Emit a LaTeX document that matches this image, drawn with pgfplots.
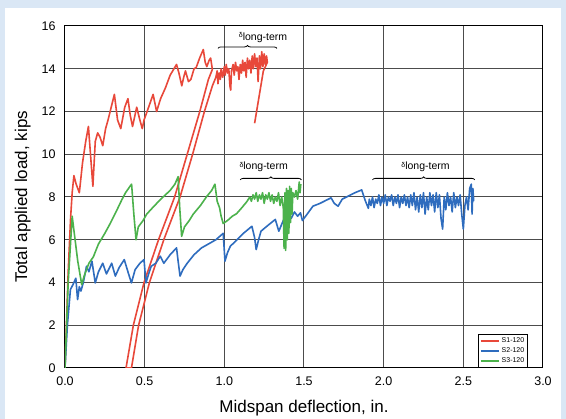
\documentclass[border=0pt]{standalone}
\usepackage{fontspec}
\setmainfont{Liberation Sans}
\usepackage{pgfplots}
\pgfplotsset{compat=1.18}
\usetikzlibrary{decorations.pathreplacing}
\definecolor{bgblue}{RGB}{218,231,245}
\definecolor{sred}{RGB}{232,72,58}
\definecolor{sblue}{RGB}{46,108,190}
\definecolor{sgreen}{RGB}{76,178,76}
\newcommand{\dlt}{{\fontsize{7}{7}\selectfont δ}\raisebox{-2.5pt}{\fontsize{10.5}{10.5}\selectfont long-term}}
\begin{document}
\begin{tikzpicture}
\fill[bgblue] (-65pt,-51pt) rectangle (501pt,368pt);
\fill[white] (-60pt,-51pt) rectangle (496pt,360pt);
\begin{axis}[
  at={(0pt,0pt)}, anchor=south west,
  scale only axis, width=478pt, height=342pt,
  xmin=0, xmax=3, ymin=0, ymax=16,
  xtick={0,0.5,...,3}, ytick={0,2,...,16},
  /pgf/number format/assume math mode=true,
  tick label style={font=\fontsize{12.5}{12.5}\selectfont},
  xticklabel style={yshift=-5pt, /pgf/number format/.cd, fixed, fixed zerofill, precision=1},
  yticklabel style={xshift=-6pt},
  major tick length=0pt,
  grid=major,
  grid style={black!70, line width=1pt},
  axis line style={black, line width=1pt},
  xlabel={Midspan deflection, in.},
  ylabel={Total applied load, kips},
  xlabel style={yshift=-8pt},
  ylabel style={yshift=4pt},
  label style={font=\fontsize{17}{17}\selectfont},
  legend style={at={(0.969,0)}, anchor=south east, draw=black, line width=0.8pt,
    font=\fontsize{7}{7}\selectfont, inner sep=1.5pt, row sep=-0.5pt},
  legend cell align=left,
  legend image code/.code={\draw[#1, line width=1.6pt] (0pt,0pt) -- (18pt,0pt);},
]
\addplot[sred, line width=1.6pt, line join=round] coordinates {
(0,0)(0.02,4.5)(0.035,7.0)(0.045,8.2)(0.056,9.0)(0.07,8.6)(0.09,8.2)(0.11,9.6)(0.13,10.6)
(0.147,11.3)(0.16,10.0)(0.175,8.5)(0.19,10.6)(0.205,11.0)(0.22,10.8)(0.237,10.4)(0.255,11.2)
(0.27,11.6)(0.29,12.2)(0.31,12.8)(0.33,11.6)(0.35,11.2)(0.375,12.2)(0.395,12.6)(0.41,11.8)
(0.424,11.3)(0.45,12.2)(0.47,11.6)(0.485,11.2)(0.496,11.6)(0.52,12.1)(0.553,12.8)(0.575,12.0)
(0.6,12.6)(0.63,13.1)(0.66,13.7)(0.70,14.2)(0.715,13.8)(0.733,13.2)(0.745,13.6)(0.756,13.9)
(0.775,13.4)(0.79,13.5)(0.81,14.0)(0.823,14.05)(0.845,14.5)(0.868,14.9)(0.88,14.3)(0.89,14.1)
(0.905,14.4)(0.914,14.5)(0.925,13.97)
(0.90,13.5)(0.846,12)(0.767,10)(0.688,8)(0.587,6)(0.496,4)(0.429,2)(0.383,0)
(0.417,0)(0.462,2)(0.53,4)(0.62,6)(0.722,8)(0.801,10)(0.875,12)(0.925,13.2)(0.947,13.6)
(0.955,13.9)(0.96,13.3)(0.968,13.8)(0.975,13.5)(0.98,14.0)(0.99,13.6)(1.0,14.1)(1.005,13.7)
(1.012,14.2)(1.02,13.8)(1.028,14.0)(1.035,13.2)(1.04,13.0)(1.045,13.9)(1.055,14.2)(1.062,13.7)
(1.07,14.3)(1.078,13.9)(1.085,14.1)(1.092,13.5)(1.1,14.2)(1.108,13.8)(1.115,14.4)(1.122,13.9)
(1.13,14.3)(1.137,13.6)(1.145,14.5)(1.152,14.0)(1.16,14.4)(1.167,13.8)(1.175,14.6)(1.182,14.0)
(1.19,14.7)(1.197,14.1)(1.205,14.5)(1.212,13.4)(1.22,14.6)(1.227,14.0)(1.235,14.8)(1.242,14.1)
(1.25,14.7)(1.257,14.2)(1.265,14.6)(1.27,14.3)(1.245,13.9)(1.19,11.45)
};
\addlegendentry{S1-120}
\addplot[sblue, line width=1.6pt, line join=round] coordinates {
(0,0)(0.015,2)(0.034,3.67)(0.05,3.9)(0.068,4.2)(0.079,3.2)(0.09,3.8)(0.1,3.6)(0.115,4.0)
(0.135,4.76)(0.15,4.5)(0.169,5.0)(0.19,3.98)(0.21,4.5)(0.237,4.9)(0.26,4.4)(0.28,4.7)(0.293,4.9)
(0.316,4.3)(0.34,4.7)(0.372,5.07)(0.395,4.5)(0.417,3.98)(0.44,4.6)(0.47,4.9)(0.496,5.07)
(0.508,3.98)(0.525,4.4)(0.541,4.76)(0.57,4.9)(0.598,5.23)(0.62,4.9)(0.66,5.3)(0.70,5.62)
(0.71,5.0)(0.722,4.3)(0.74,4.6)(0.767,4.9)(0.81,5.3)(0.857,5.62)(0.9,5.8)(0.947,6.0)(0.97,6.15)
(0.993,6.3)(1.004,5.0)(1.02,5.4)(1.038,5.7)(1.08,6.0)(1.12,6.3)(1.173,6.63)(1.19,6.1)(1.2,5.54)
(1.215,6.0)(1.23,6.4)(1.27,6.65)(1.32,6.95)(1.342,6.4)(1.37,6.9)(1.40,7.26)(1.42,7.0)(1.44,7.3)
(1.46,7.1)(1.478,7.26)(1.49,6.9)(1.52,7.2)(1.556,7.57)(1.6,7.7)(1.64,7.85)(1.67,7.96)(1.69,7.7)
(1.714,7.57)(1.74,7.9)(1.78,8.05)(1.82,8.2)(1.862,8.33)(1.883,7.86)(1.904,7.47)(1.91,7.9)
(1.92,7.6)(1.93,8.0)(1.94,7.5)(1.95,7.9)(1.96,7.7)(1.97,8.1)(1.98,7.6)(1.99,8.0)(2.0,7.7)
(2.01,8.1)(2.02,7.6)(2.03,8.0)(2.04,7.8)(2.05,8.1)(2.06,7.6)(2.07,8.0)(2.08,7.7)(2.09,8.1)
(2.1,7.5)(2.11,8.0)(2.12,7.7)(2.13,8.1)(2.14,7.6)(2.15,8.0)(2.16,7.5)(2.17,8.1)(2.18,7.6)
(2.19,8.2)(2.2,7.4)(2.21,8.0)(2.22,7.3)(2.23,8.1)(2.24,7.5)(2.25,8.2)(2.26,7.2)(2.27,8.0)
(2.28,7.4)(2.29,8.2)(2.3,7.6)(2.31,8.1)(2.32,7.3)(2.33,8.2)(2.34,7.5)(2.35,8.1)(2.36,7.0)
(2.37,6.5)(2.38,8.0)(2.39,7.4)(2.4,8.2)(2.41,7.6)(2.42,8.0)(2.43,7.3)(2.44,8.2)(2.45,7.5)
(2.46,8.0)(2.47,7.6)(2.48,8.1)(2.49,7.2)(2.5,6.5)(2.51,7.6)(2.52,8.0)(2.53,7.4)(2.54,8.4)
(2.55,8.6)(2.555,7.2)(2.56,8.4)(2.565,7.8)
};
\addlegendentry{S2-120}
\addplot[sgreen, line width=1.6pt, line join=round] coordinates {
(0,0)(0.02,4)(0.045,7.1)(0.06,6.2)(0.08,5)(0.105,3.9)(0.12,4.3)(0.15,4.9)(0.178,5.2)(0.21,5.8)
(0.25,6.3)(0.283,6.75)(0.32,7.3)(0.356,7.86)(0.38,8.2)(0.408,8.5)(0.418,8.6)(0.432,7.2)
(0.446,6.0)(0.46,6.6)(0.49,6.9)(0.513,7.2)(0.55,7.5)(0.596,7.86)(0.63,8.1)(0.659,8.3)(0.69,8.6)
(0.71,8.95)(0.72,7.5)(0.732,6.16)(0.75,6.6)(0.78,6.9)(0.805,7.2)(0.85,7.6)(0.889,8.02)(0.92,8.3)
(0.941,8.6)(0.955,7.8)(0.97,7.5)(0.98,7.1)(0.993,6.76)(1.02,6.9)(1.05,7.1)(1.077,7.22)(1.11,7.5)
(1.14,7.77)(1.16,8.0)(1.17,7.8)(1.18,8.1)(1.19,7.9)(1.2,8.2)(1.21,7.8)(1.22,8.1)(1.23,7.9)
(1.24,8.2)(1.25,7.7)(1.26,8.1)(1.27,7.9)(1.28,8.2)(1.29,7.8)(1.3,8.1)(1.31,7.7)(1.32,8.0)
(1.33,7.8)(1.34,8.2)(1.35,7.6)(1.36,8.0)(1.37,7.5)(1.375,5.6)(1.38,8.2)(1.385,5.5)(1.39,8.4)
(1.395,6.0)(1.4,8.3)(1.405,6.3)(1.41,8.5)(1.415,6.8)(1.42,8.4)(1.425,7.2)(1.43,8.2)(1.44,8.0)
(1.45,8.3)(1.46,7.9)(1.47,8.7)(1.475,8.2)(1.48,8.6)
};
\addlegendentry{S3-120}
\draw[black, line width=0.8pt, decorate, decoration={brace, amplitude=3pt}]
  (axis cs:0.96,14.95) -- (axis cs:1.33,14.95);
\node[anchor=west, inner sep=0pt] at (axis cs:1.09,15.45) {\dlt};
\draw[black, line width=0.8pt, decorate, decoration={brace, amplitude=3pt}]
  (axis cs:1.10,8.8) -- (axis cs:1.484,8.8);
\node[anchor=west, inner sep=0pt] at (axis cs:1.094,9.4) {\dlt};
\draw[black, line width=0.8pt, decorate, decoration={brace, amplitude=3pt}]
  (axis cs:1.93,8.8) -- (axis cs:2.572,8.8);
\node[anchor=west, inner sep=0pt] at (axis cs:2.11,9.4) {\dlt};
\end{axis}
\pgfresetboundingbox
\useasboundingbox (-65pt,-51pt) rectangle (501pt,368pt);
\end{tikzpicture}
\end{document}
